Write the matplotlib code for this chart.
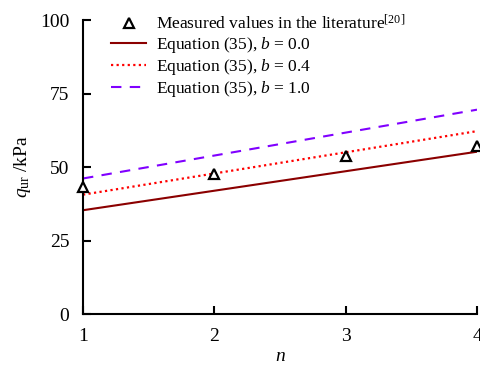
import matplotlib
matplotlib.use("Agg")
import matplotlib.pyplot as plt

plt.rcParams['font.family'] = ['Liberation Serif', 'DejaVu Serif']
plt.rcParams['mathtext.fontset'] = 'custom'
plt.rcParams['mathtext.rm'] = 'Liberation Serif'
plt.rcParams['mathtext.it'] = 'Liberation Serif:italic'

n_meas = [1, 2, 3, 4]
q_meas = [43.2, 47.6, 53.8, 57.0]

n_line = [1, 4]
q_b00 = [35.3, 55.2]
q_b04 = [40.6, 62.2]
q_b10 = [46.1, 69.5]

x_ticks = [1, 2, 3, 4]
y_ticks = [0, 25, 50, 75, 100]

fig = plt.figure(figsize=(4.81, 3.65), dpi=100)
ax = fig.add_axes([0.1726, 0.1397, 0.8191, 0.8055])

ax.plot(n_meas, q_meas, linestyle='none', marker='^', markersize=6.5,
        markerfacecolor='white', markeredgecolor='black', markeredgewidth=1.6,
        label='Measured values in the literature$^{[20]}$', clip_on=False, zorder=5)
ax.plot(n_line, q_b00, color='#8B0000', lw=1.5, label='Equation (35), $b$ = 0.0')
ax.plot(n_line, q_b04, color='#FF0000', lw=1.6, linestyle=(0, (1, 1.5)), label='Equation (35), $b$ = 0.4')
ax.plot(n_line, q_b10, color='#8000FF', lw=1.5, linestyle=(0, (5, 4)), label='Equation (35), $b$ = 1.0')

ax.set_xlim(1, 4)
ax.set_ylim(0, 100)
ax.set_xticks(x_ticks)
ax.set_yticks(y_ticks)
ax.spines['top'].set_visible(False)
ax.spines['right'].set_visible(False)
for s in ['left', 'bottom']:
    ax.spines[s].set_linewidth(1.5)
ax.tick_params(direction='in', length=6, width=1.5, labelsize=14)
ax.tick_params(axis='x', pad=10)
ax.tick_params(axis='y', pad=10)

ax.set_xlabel('n', fontsize=14, fontstyle='italic', labelpad=2)
ax.set_ylabel('$q_{\\mathrm{ur}}$ /kPa', fontsize=14, labelpad=5)

leg = ax.legend(loc='upper left', bbox_to_anchor=(0.045, 1.055), frameon=False,
                fontsize=12.5, handlelength=2.0, handletextpad=0.6, labelspacing=0.1,
                borderaxespad=0.2)

fig.savefig('out.png', dpi=100)
